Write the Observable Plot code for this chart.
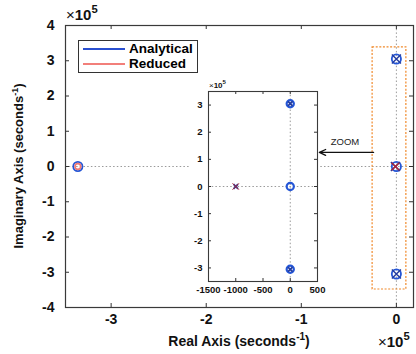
<!DOCTYPE html>
<html><head><meta charset="utf-8">
<script src="https://cdn.jsdelivr.net/npm/d3@7"></script>
<script src="https://cdn.jsdelivr.net/npm/@observablehq/plot@0.6"></script>
<style>
body{margin:0;background:#fff;}
#wrap{position:relative;width:416px;height:354px;overflow:hidden;font-family:"Liberation Sans",Arial,sans-serif;background:#fff;}
#wrap svg{position:absolute;overflow:visible;}
#legend{position:absolute;left:78px;top:40px;width:118px;height:31px;border:1px solid #333;background:#fff;font-weight:bold;font-size:13.5px;}
#legend .row{position:absolute;left:4px;height:15px;line-height:15px;white-space:nowrap;}
#legend .sw{display:inline-block;width:42px;height:2px;vertical-align:middle;margin-right:4px;}
</style></head><body><div id="wrap"></div>
<script>
// series
const seriesNames = ["Analytical", "Reduced"];
const seriesColors = ["#2456d6", "#f07a74"];
const legendColors = ["#2a4fd0", "#f27f7a"];
const poleColors = ["#243c9e", "#b02232"];
// zeros (o) and poles (x), seconds^-1
const anaZeroRe = [-335000, 0, 0, 0];
const anaZeroIm = [0, 0, 305000, -305000];
const anaPoleRe = [-1000, 0, 0];
const anaPoleIm = [0, 305000, -305000];
const redZeroRe = [-335000];
const redZeroIm = [0];
const redPoleRe = [-1000];
const redPoleIm = [0];
// axes
const mainXTicks = [-3, -2, -1, 0];
const mainYTicks = [-4, -3, -2, -1, 0, 1, 2, 3, 4];
const insetXTicks = [-1500, -1000, -500, 0, 500];
const insetYTicks = [-3, -2, -1, 0, 1, 2, 3];
const mainXDomain = [-3.48, 0.18];   // x 1e5
const mainYDomain = [-4, 4];         // x 1e5
const insetXDomain = [-1500, 500];
const insetYDomain = [-3.5, 3.5];    // x 1e5
// zoom annotation
const zoomBoxRe = [-25000, 10500];
const zoomBoxIm = [-349000, 338000];
const zoomArrowRe = [-24000, -81000];
const zoomArrowIm = [40000, 40000];
const zoomLabelRe = [-54000];
const zoomLabelIm = [69000];
const zoomLabelText = ["ZOOM"];

const S = 1e5;
const pts = (re, im, sx) => re.map((r, i) => ({x: r / sx, y: im[i] / S}));
const fmt = d => String(d);
const font = '"Liberation Sans", Arial, sans-serif';
const dotted = {stroke: "#9a9a9a", strokeDasharray: "1.5,2.2", strokeWidth: 1};

function tickMarks(xt, yt, fw, fh, len) {
  return [
    Plot.tickX(xt, {x: d => d, insetTop: fh - len, stroke: "#333"}),
    Plot.tickX(xt, {x: d => d, insetBottom: fh - len, stroke: "#333"}),
    Plot.tickY(yt, {y: d => d, insetRight: fw - len, stroke: "#333"}),
    Plot.tickY(yt, {y: d => d, insetLeft: fw - len, stroke: "#333"})
  ];
}

function pzMarks(sx, rz, rp, sw, rpr, swr) {
  return [
    Plot.dot(pts(anaZeroRe, anaZeroIm, sx), {x: "x", y: "y", r: rz, stroke: seriesColors[0], strokeWidth: sw}),
    Plot.dot(pts(redZeroRe, redZeroIm, sx), {x: "x", y: "y", r: rz * 0.62, stroke: seriesColors[1], strokeWidth: sw * 0.9}),
    Plot.dot(pts(anaPoleRe, anaPoleIm, sx), {x: "x", y: "y", r: rp, symbol: "times", stroke: poleColors[0], strokeWidth: sw * 0.8}),
    Plot.dot(pts(redPoleRe, redPoleIm, sx), {x: "x", y: "y", r: rpr, symbol: "times", stroke: poleColors[1], strokeWidth: swr})
  ];
}

const W = 416, H = 354, mL = 65, mR = 3, mT = 25, mB = 47;
const fw = W - mL - mR, fh = H - mT - mB;

const main = Plot.plot({
  width: W, height: H,
  marginLeft: mL, marginRight: mR, marginTop: mT, marginBottom: mB,
  x: {domain: mainXDomain},
  y: {domain: mainYDomain},
  style: {fontFamily: font, background: "white", color: "#111"},
  marks: [
    Plot.ruleX([0], dotted),
    Plot.ruleY([0], dotted),
    Plot.rect([0], {x1: zoomBoxRe[0] / S, x2: zoomBoxRe[1] / S, y1: zoomBoxIm[0] / S, y2: zoomBoxIm[1] / S,
      fill: "none", stroke: "#f0892a", strokeWidth: 1.2, strokeDasharray: "2,1.6"}),
    Plot.text(zoomLabelText, {x: zoomLabelRe.map(v => v / S), y: zoomLabelIm.map(v => v / S), text: d => d,
      fontSize: 9.5, fill: "#222"}),
    ...pzMarks(S, 4.6, 4.2, 1.8, 3.6, 1.4),
    ...tickMarks(mainXTicks, mainYTicks, fw, fh, 4),
    Plot.axisX(mainXTicks, {tickSize: 0, tickPadding: 7, tickFormat: fmt, label: null, fontSize: 14, fontWeight: "bold"}),
    Plot.axisY(mainYTicks, {tickSize: 0, tickPadding: 11, tickFormat: fmt, label: null, fontSize: 14, fontWeight: "bold"}),
    Plot.frame({stroke: "#3a3a3a", strokeWidth: 1.2})
  ]
});
main.style.left = "0px"; main.style.top = "0px";

// inset
const iL = 190, iT = 77, imL = 18, imR = 2, imT = 14, imB = 18;
const ifw = 317 - 208, ifh = 281 - 91;
const inset = Plot.plot({
  width: imL + ifw + imR, height: imT + ifh + imB,
  marginLeft: imL, marginRight: imR, marginTop: imT, marginBottom: imB,
  x: {domain: insetXDomain},
  y: {domain: insetYDomain},
  style: {fontFamily: font, background: "white", color: "#111"},
  marks: [
    Plot.ruleX([0], dotted),
    Plot.ruleY([0], dotted),
    ...pzMarks(1, 3.6, 2.2, 2.2, 3.0, 1.0),
    ...tickMarks(insetXTicks, insetYTicks, ifw, ifh, 3),
    Plot.axisX(insetXTicks, {tickSize: 0, tickPadding: 5, tickFormat: fmt, label: null, fontSize: 9.5, fontWeight: "bold"}),
    Plot.axisY(insetYTicks, {tickSize: 0, tickPadding: 6, tickFormat: fmt, label: null, fontSize: 9.5, fontWeight: "bold"}),
    Plot.frame({stroke: "#3a3a3a", strokeWidth: 1.1})
  ]
});
inset.style.left = iL + "px"; inset.style.top = iT + "px";

// zoom arrow drawn above the inset
const arrowLayer = Plot.plot({
  width: W, height: H,
  marginLeft: mL, marginRight: mR, marginTop: mT, marginBottom: mB,
  x: {domain: mainXDomain, axis: null},
  y: {domain: mainYDomain, axis: null},
  style: {background: "transparent"},
  marks: [
    Plot.arrow([0], {x1: zoomArrowRe[0] / S, y1: zoomArrowIm[0] / S, x2: zoomArrowRe[1] / S, y2: zoomArrowIm[1] / S,
      stroke: "#111", strokeWidth: 1.3, headLength: 8, headAngle: 50})
  ]
});
arrowLayer.style.left = "0px"; arrowLayer.style.top = "0px"; arrowLayer.style.pointerEvents = "none";

const wrap = document.getElementById("wrap");
wrap.appendChild(main);
wrap.appendChild(inset);
wrap.appendChild(arrowLayer);

// text annotations
function exponent(svg, x, y, size, anchor) {
  const t = d3.select(svg).append("text").attr("x", x).attr("y", y)
    .attr("font-family", font).attr("font-size", size).attr("font-weight", "bold")
    .attr("text-anchor", anchor || "start").attr("fill", "#111");
  t.append("tspan").attr("font-weight", "normal").text("\u00d7");
  t.append("tspan").text("10");
  t.append("tspan").attr("dy", -size * 0.45).attr("font-size", size * 0.75).text("5");
}
exponent(main, 66, 20, 15);
exponent(main, 378, 347, 15);
exponent(inset, 19, 11, 8);

const ms = d3.select(main);
const xl = ms.append("text").attr("x", mL + fw / 2).attr("y", 346).attr("text-anchor", "middle")
  .attr("font-family", font).attr("font-size", 14).attr("font-weight", "bold").attr("fill", "#111");
xl.append("tspan").text("Real Axis (seconds");
xl.append("tspan").attr("dy", -6).attr("font-size", 10).text("-1");
xl.append("tspan").attr("dy", 6).text(")");
const yl = ms.append("text").attr("transform", `translate(23,${mT + fh / 2}) rotate(-90)`).attr("text-anchor", "middle")
  .attr("font-family", font).attr("font-size", 13).attr("font-weight", "bold").attr("fill", "#111");
yl.append("tspan").text("Imaginary Axis (seconds");
yl.append("tspan").attr("dy", -5).attr("font-size", 9).text("-1");
yl.append("tspan").attr("dy", 5).text(")");

// legend
const lg = document.createElement("div");
lg.id = "legend";
seriesNames.forEach((n, i) => {
  const r = document.createElement("div");
  r.className = "row";
  r.style.top = (0 + i * 15) + "px";
  r.innerHTML = `<span class="sw" style="background:${legendColors[i]}"></span>${n}`;
  lg.appendChild(r);
});
wrap.appendChild(lg);
</script></body></html>
